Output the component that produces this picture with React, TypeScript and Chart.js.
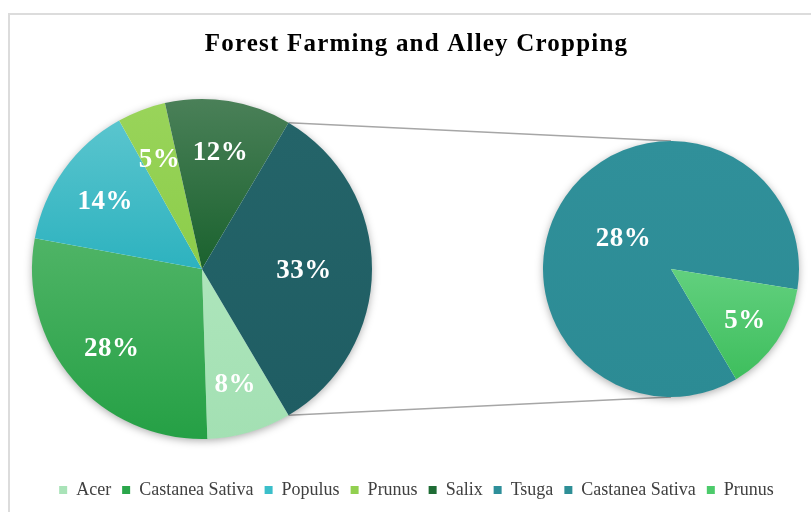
import React, { useEffect, useRef } from 'react';
import { Chart, registerables } from 'chart.js';

Chart.register(...registerables);

// ---------- data ----------
const TITLE = 'Forest Farming and Alley Cropping';
const leftLabels = ['Acer', 'Castanea Sativa', 'Populus', 'Prunus', 'Salix', 'Other'];
const leftValues = [8, 28.4, 14, 4.6, 12, 33];
const rightLabels = ['Tsuga', 'Castanea Sativa', 'Prunus'];
const rightValues = [0, 28.4, 4.6];
const legendLabels = [...leftLabels.slice(0, 5), ...rightLabels];

// ---------- styles ----------
const leftTop = ['#ade5bb', '#4fb466', '#5ac5ce', '#99d45a', '#4a8058', '#246469'];
const leftBottom = ['#a3e0b3', '#25a045', '#2db2bf', '#8ccd4a', '#1a622e', '#1f5d63'];
const rightTop = ['#2e8f9a', '#30909a', '#62d07e'];
const rightBottom = ['#2e8f9a', '#2c8b94', '#3ebe5d'];
const legendColors = ['#a9e3b8', '#2ba64b', '#3bbfca', '#92d050', '#1e6c35', '#2e8f9a', '#2e8f96', '#4ccb6b'];

const FONT = "'Liberation Serif', 'Times New Roman', serif";
const ROTATION = 149.4;
const LEFT_R = 170;
const RIGHT_R = 128;

function sliceGradient(top: string[], bottom: string[], values: number[], rotation: number, radius: number) {
  return (ctx: any) => {
    const i = ctx.dataIndex;
    const chart = ctx.chart;
    const area = chart.chartArea;
    if (i === undefined || i === null || !area) return bottom[i ?? 0] || bottom[0];
    const total = values.reduce((a, b) => a + b, 0);
    let cum = 0;
    for (let k = 0; k < i; k++) cum += values[k];
    const base = ((rotation - 90) * Math.PI) / 180;
    const a0 = base + (cum / total) * 2 * Math.PI;
    const a1 = a0 + (values[i] / total) * 2 * Math.PI;
    const cy = (area.top + area.bottom) / 2;
    const ys = [cy, cy + radius * Math.sin(a0), cy + radius * Math.sin(a1)];
    const passes = (t: number) => {
      const k = Math.ceil((a0 - t) / (2 * Math.PI));
      return t + 2 * Math.PI * k <= a1;
    };
    if (passes(Math.PI / 2)) ys.push(cy + radius);
    if (passes(-Math.PI / 2)) ys.push(cy - radius);
    const minY = Math.min(...ys);
    const maxY = Math.max(...ys);
    if (maxY - minY < 1) return bottom[i];
    const g = chart.ctx.createLinearGradient(0, minY, 0, maxY);
    g.addColorStop(0, top[i]);
    g.addColorStop(1, bottom[i]);
    return g;
  };
}

function pieLabels(values: number[]) {
  return {
    id: 'pieLabels',
    afterDatasetsDraw(chart: any) {
      const meta = chart.getDatasetMeta(0);
      const total = values.reduce((a, b) => a + b, 0);
      const c = chart.ctx;
      c.save();
      c.font = `bold 27px ${FONT}`;
      c.fillStyle = '#ffffff';
      c.textAlign = 'center';
      c.textBaseline = 'middle';
      try { c.letterSpacing = '0.5px'; } catch (e) { /* ignore */ }
      meta.data.forEach((arc: any, i: number) => {
        const v = values[i];
        if (!v) return;
        const { x, y, startAngle, endAngle, outerRadius } = arc.getProps(['x', 'y', 'startAngle', 'endAngle', 'outerRadius'], true);
        const share = v / total;
        const f = share >= 0.5 ? 0.45 : share >= 0.3 ? 0.6 : 0.7;
        const mid = (startAngle + endAngle) / 2;
        c.fillText(`${Math.round(v)}%`, x + Math.cos(mid) * outerRadius * f, y + Math.sin(mid) * outerRadius * f + 2);
      });
      c.restore();
    },
  };
}

const pieShadow = {
  id: 'pieShadow',
  beforeDatasetsDraw(chart: any) {
    const arc = chart.getDatasetMeta(0).data[0];
    if (!arc) return;
    const { x, y, outerRadius } = arc.getProps(['x', 'y', 'outerRadius'], true);
    const c = chart.ctx;
    c.save();
    c.shadowColor = 'rgba(0,0,0,0.35)';
    c.shadowBlur = 8;
    c.shadowOffsetY = 2;
    c.fillStyle = '#ffffff';
    c.beginPath();
    c.arc(x, y, outerRadius - 0.5, 0, Math.PI * 2);
    c.fill();
    c.restore();
  },
};

function pieConfig(labels: string[], values: number[], top: string[], bottom: string[], radius: number): any {
  return {
    type: 'pie',
    data: {
      labels,
      datasets: [
        {
          data: values,
          backgroundColor: sliceGradient(top, bottom, values, ROTATION, radius),
          borderWidth: 0,
        },
      ],
    },
    options: {
      responsive: false,
      animation: false,
      events: [],
      rotation: ROTATION,
      radius,
      layout: { padding: 0 },
      plugins: { legend: { display: false }, title: { display: false }, tooltip: { enabled: false } },
    },
    plugins: [pieShadow, pieLabels(values)],
  };
}

export default function App() {
  const frameRef = useRef<HTMLCanvasElement | null>(null);
  const leftRef = useRef<HTMLCanvasElement | null>(null);
  const rightRef = useRef<HTMLCanvasElement | null>(null);

  useEffect(() => {
    const leftCanvas = leftRef.current!;
    const rightCanvas = rightRef.current!;
    const frameCanvas = frameRef.current!;
    const left = new Chart(leftCanvas, pieConfig(leftLabels, leftValues, leftTop, leftBottom, LEFT_R));
    const right = new Chart(rightCanvas, pieConfig(rightLabels, rightValues, rightTop, rightBottom, RIGHT_R));

    const titleSpacing = {
      id: 'titleSpacing',
      beforeDraw(chart: any) {
        const tb = chart.titleBlock;
        if (tb && !tb._spaced) {
          const orig = tb.draw.bind(tb);
          tb.draw = (...args: any[]) => {
            const c = chart.ctx;
            const prev = c.letterSpacing;
            try { c.letterSpacing = '1.2px'; } catch (e) { /* ignore */ }
            orig(...args);
            try { c.letterSpacing = prev; } catch (e) { /* ignore */ }
          };
          tb._spaced = true;
        }
      },
    };

    const connectors = {
      id: 'connectors',
      afterDraw(chart: any) {
        const fr = frameCanvas.getBoundingClientRect();
        const lr = leftCanvas.getBoundingClientRect();
        const rr = rightCanvas.getBoundingClientRect();
        const lArc = left.getDatasetMeta(0).data[leftValues.length - 1] as any;
        const rArc = right.getDatasetMeta(0).data[0] as any;
        if (!lArc || !rArc) return;
        const lp = lArc.getProps(['x', 'y', 'startAngle', 'endAngle', 'outerRadius'], true);
        const rp = rArc.getProps(['x', 'y', 'outerRadius'], true);
        const lx = lr.left - fr.left;
        const ly = lr.top - fr.top;
        const rx = rr.left - fr.left;
        const ry = rr.top - fr.top;
        const c = chart.ctx;
        c.save();
        c.strokeStyle = '#a6a6a6';
        c.lineWidth = 1.5;
        c.beginPath();
        c.moveTo(lx + lp.x + Math.cos(lp.startAngle) * lp.outerRadius, ly + lp.y + Math.sin(lp.startAngle) * lp.outerRadius);
        c.lineTo(rx + rp.x, ry + rp.y - rp.outerRadius);
        c.moveTo(lx + lp.x + Math.cos(lp.endAngle) * lp.outerRadius, ly + lp.y + Math.sin(lp.endAngle) * lp.outerRadius);
        c.lineTo(rx + rp.x, ry + rp.y + rp.outerRadius);
        c.stroke();
        c.restore();
      },
    };

    const frame = new Chart(frameCanvas, {
      type: 'pie',
      data: { labels: [], datasets: [] },
      options: {
        responsive: false,
        animation: false,
        events: [],
        layout: { padding: { left: 22, right: 0, top: 0, bottom: 3 } },
        plugins: {
          tooltip: { enabled: false },
          title: {
            display: true,
            text: TITLE,
            color: '#000000',
            font: { family: FONT, size: 25, weight: 'bold' },
            padding: { top: 30, bottom: 0 },
          },
          legend: {
            display: true,
            position: 'bottom',
            labels: {
              font: { family: FONT, size: 18 },
              color: '#404040',
              boxWidth: 8,
              boxHeight: 8,
              padding: 11,
              generateLabels: () =>
                legendLabels.map((text, i) => ({
                  text,
                  fillStyle: legendColors[i],
                  strokeStyle: legendColors[i],
                  lineWidth: 0,
                  hidden: false,
                  index: i,
                  fontColor: '#404040',
                })),
            },
          },
        },
      } as any,
      plugins: [titleSpacing, connectors],
    } as any);

    return () => {
      frame.destroy();
      left.destroy();
      right.destroy();
    };
  }, []);

  return (
    <div style={{ position: 'fixed', left: 0, top: 0, width: 811, height: 512, overflow: 'hidden', background: '#ffffff' }}>
      <div style={{ position: 'absolute', left: 8, top: 13, width: 840, height: 540, border: '2px solid #dcdcdc' }} />
      <canvas ref={frameRef} width={811} height={512} style={{ position: 'absolute', left: 0, top: 0 }} />
      <canvas ref={leftRef} width={380} height={380} style={{ position: 'absolute', left: 12, top: 79 }} />
      <canvas ref={rightRef} width={300} height={300} style={{ position: 'absolute', left: 521, top: 119 }} />
    </div>
  );
}
